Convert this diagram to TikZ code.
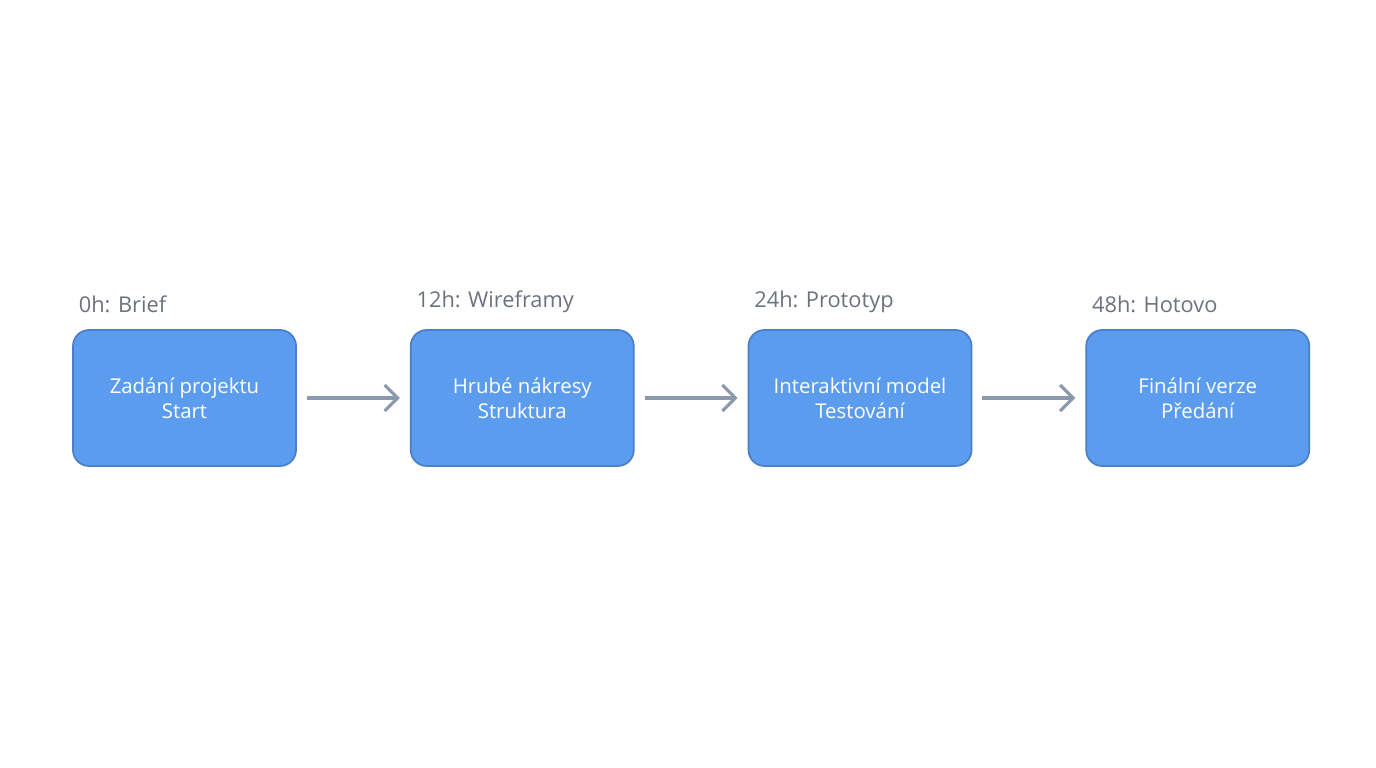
\documentclass[tikz,border=0pt]{standalone}
\usepackage{fontspec}
\setmainfont{Open Sans}
\usetikzlibrary{positioning,arrows.meta}
\definecolor{boxfill}{HTML}{5C9CEE}
\definecolor{boxline}{HTML}{4B7FC9}
\definecolor{arrowgray}{HTML}{8A99AD}
\definecolor{labelgray}{HTML}{6B7280}
\tikzset{
 phase/.style={draw=boxline,fill=boxfill,line width=0.5pt,rounded corners=0.16cm,
  minimum width=2.23cm,minimum height=1.36cm,align=center,text=white,
  font=\fontsize{5.8}{7.2}\selectfont},
 time/.style={anchor=south west,text=labelgray,inner sep=0pt,
  font=\fontsize{6.2}{7}\selectfont},
 flow/.style={draw=arrowgray,line width=0.9pt,-{Straight Barb[length=1.3mm,width=2.6mm]}}
}
\begin{document}
\begin{tikzpicture}[node distance=1.13cm]
 \useasboundingbox (0,0) rectangle (13.76,7.68);
 \node[phase] (brief) at (1.845,3.70) {Zadání projektu\\Start};
 \node[phase,right=of brief] (wire) {Hrubé nákresy\\Struktura};
 \node[phase,right=of wire] (proto) {Interaktivní model\\Testování};
 \node[phase,right=of proto] (done) {Finální verze\\Předání};
 % time labels
 \node[time] at ([xshift=0.06cm,yshift=0.16cm]brief.north west) {0h: Brief};
 \node[time] at ([xshift=0.06cm,yshift=0.16cm]wire.north west) {12h: Wireframy};
 \node[time] at ([xshift=0.06cm,yshift=0.16cm]proto.north west) {24h: Prototyp};
 \node[time] at ([xshift=0.06cm,yshift=0.16cm]done.north west) {48h: Hotovo};
 % arrows
 \draw[flow] ([xshift=0.1cm]brief.east) -- ([xshift=-0.1cm]wire.west);
 \draw[flow] ([xshift=0.1cm]wire.east) -- ([xshift=-0.1cm]proto.west);
 \draw[flow] ([xshift=0.1cm]proto.east) -- ([xshift=-0.1cm]done.west);
\end{tikzpicture}
\end{document}
